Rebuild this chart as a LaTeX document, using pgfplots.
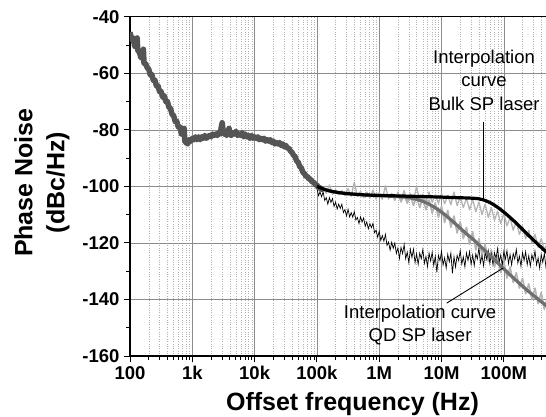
\documentclass[border=0pt]{standalone}
\usepackage{fontspec}
\setmainfont{Liberation Sans}
\usepackage{pgfplots}
\pgfplotsset{compat=1.18}
\definecolor{dg}{HTML}{555555}
\definecolor{qd}{HTML}{6E6E6E}
\definecolor{lg}{HTML}{B4B4B4}
\begin{document}
\begin{tikzpicture}
\begin{axis}[
  at={(0,0)}, anchor=south west,
  scale only axis, width=418.7pt, height=339.3pt,
  xmin=2, xmax=8.72, ymin=-160, ymax=-40,
  xtick={2,3,4,5,6,7,8}, xticklabels={100,1k,10k,100k,1M,10M,100M},
  minor xtick={2.30103,2.47712,2.60206,2.69897,2.77815,2.84510,2.90309,2.95424,
    3.30103,3.47712,3.60206,3.69897,3.77815,3.84510,3.90309,3.95424,
    4.30103,4.47712,4.60206,4.69897,4.77815,4.84510,4.90309,4.95424,
    5.30103,5.47712,5.60206,5.69897,5.77815,5.84510,5.90309,5.95424,
    6.30103,6.47712,6.60206,6.69897,6.77815,6.84510,6.90309,6.95424,
    7.30103,7.47712,7.60206,7.69897,7.77815,7.84510,7.90309,7.95424,
    8.30103,8.47712,8.60206,8.69897},
  ytick={-160,-140,-120,-100,-80,-60,-40},
  minor ytick={-150,-130,-110,-90,-70,-50},
  tick align=outside, xtick pos=lower, ytick pos=left,
  major tick length=6pt, minor tick length=3.5pt,
  xmajorgrids, xminorgrids, ymajorgrids,
  major grid style={black!45, line width=0.6pt},
  minor grid style={black!30, dotted, line width=0.5pt},
  axis line style={line width=1.1pt},
  tick style={black, line width=0.9pt},
  ticklabel style={font=\bfseries\fontsize{18.5}{20}\selectfont},
  /pgf/number format/assume math mode=true,
  xticklabel style={yshift=-1pt},
  yticklabel style={xshift=-1pt},
  xlabel={Offset frequency (Hz)},
  xlabel style={at={(axis description cs:0.5314,0)}, anchor=base, yshift=-54pt, font=\bfseries\fontsize{25}{30}\selectfont},
  ylabel={Phase Noise\\(dBc/Hz)},
  ylabel style={at={(axis description cs:0,0.511)}, anchor=center, rotate=0, yshift=88pt, align=center, font=\bfseries\fontsize{25}{32}\selectfont},
]
% light gray measured trace (bulk)
\addplot[lg, line width=1.3pt, line join=round] coordinates {
(5.00,-99.0)(5.05,-102.0)(5.10,-100.5)(5.15,-102.5)(5.20,-99.5)(5.25,-102.8)(5.30,-101.2)(5.35,-103.0)
(5.40,-101.5)(5.45,-103.3)(5.50,-100.8)(5.55,-103.5)(5.60,-98.5)(5.65,-103.6)(5.70,-101.8)(5.75,-104.0)
(5.80,-102.0)(5.85,-104.2)(5.90,-101.3)(5.95,-104.5)(6.00,-102.2)(6.05,-104.6)(6.10,-99.8)(6.15,-104.5)
(6.20,-102.5)(6.25,-105.0)(6.30,-102.0)(6.35,-104.8)(6.40,-101.5)(6.45,-105.2)(6.50,-102.6)(6.55,-105.0)
(6.60,-100.0)(6.65,-105.3)(6.70,-102.8)(6.75,-105.5)(6.80,-102.0)(6.85,-105.6)(6.90,-103.0)(6.95,-106.0)
(7.00,-102.5)(7.05,-106.2)(7.10,-103.2)(7.15,-106.5)(7.20,-102.0)(7.25,-106.8)(7.30,-103.8)(7.35,-107.5)
(7.40,-104.2)(7.45,-108.3)(7.50,-104.6)(7.55,-109.0)(7.60,-105.5)(7.65,-110.0)(7.70,-106.2)(7.75,-111.0)
(7.80,-107.5)(7.85,-112.0)(7.90,-108.8)(7.95,-113.2)(8.00,-109.5)(8.05,-114.0)(8.10,-111.0)(8.15,-115.5)
(8.20,-112.5)(8.25,-117.0)(8.30,-114.0)(8.35,-118.5)(8.40,-115.5)(8.45,-120.0)(8.50,-117.0)(8.55,-121.5)
(8.60,-118.5)(8.65,-122.5)(8.70,-120.0)};
% light gray measured trace (QD)
\addplot[lg, line width=1.6pt, line join=round] coordinates {
(6.30,-102.5)(6.35,-105.5)(6.40,-103.0)(6.45,-106.0)(6.50,-103.2)(6.55,-106.8)(6.60,-103.5)(6.65,-107.5)
(6.70,-104.0)(6.75,-108.3)(6.80,-104.8)(6.85,-109.5)(6.90,-105.8)(6.95,-111.0)(7.00,-107.0)(7.05,-112.8)
(7.10,-108.5)(7.15,-114.5)(7.20,-110.5)(7.25,-116.5)(7.30,-112.5)(7.35,-118.5)(7.40,-114.5)(7.45,-120.5)
(7.50,-116.0)(7.55,-122.5)(7.60,-118.5)(7.65,-124.5)(7.70,-120.5)(7.75,-126.5)(7.80,-122.5)(7.85,-128.5)
(7.90,-124.5)(7.95,-130.5)(8.00,-126.5)(8.05,-132.5)(8.10,-128.5)(8.15,-134.0)(8.20,-130.5)(8.25,-136.0)
(8.30,-132.5)(8.35,-138.0)(8.40,-134.5)(8.45,-140.0)(8.50,-136.0)(8.55,-141.5)(8.60,-137.5)(8.65,-143.5)
(8.70,-139.0)};
% black measured trace
\addplot[black, line width=0.7pt] coordinates {
(5.000,-100.4)(5.025,-103.3)(5.050,-102.0)(5.075,-103.7)(5.100,-101.9)(5.125,-105.0)(5.150,-104.0)(5.175,-106.3)
(5.200,-104.0)(5.225,-105.7)(5.250,-104.3)(5.275,-107.1)(5.300,-105.6)(5.325,-108.0)(5.350,-106.3)(5.375,-107.8)
(5.400,-106.3)(5.425,-109.3)(5.450,-108.2)(5.475,-110.5)(5.500,-108.1)(5.525,-110.8)(5.550,-109.3)(5.575,-110.9)
(5.600,-108.9)(5.625,-111.9)(5.650,-111.0)(5.675,-113.2)(5.700,-110.8)(5.725,-112.6)(5.750,-111.2)(5.775,-114.1)
(5.800,-112.6)(5.825,-115.0)(5.850,-113.2)(5.875,-114.6)(5.900,-113.1)(5.925,-116.4)(5.950,-115.5)(5.975,-118.0)
(6.000,-115.9)(6.025,-119.1)(6.050,-117.4)(6.075,-119.4)(6.100,-117.0)(6.125,-120.9)(6.150,-119.7)(6.175,-122.6)
(6.200,-119.8)(6.225,-121.9)(6.250,-120.1)(6.275,-123.7)(6.300,-121.8)(6.325,-125.5)(6.350,-121.6)(6.375,-123.8)
(6.400,-120.6)(6.425,-125.6)(6.450,-123.3)(6.475,-127.0)(6.500,-122.3)(6.525,-125.2)(6.550,-122.2)(6.575,-127.0)
(6.600,-123.8)(6.625,-127.6)(6.650,-123.6)(6.675,-125.6)(6.700,-122.3)(6.725,-127.2)(6.750,-124.8)(6.775,-128.4)
(6.800,-123.6)(6.825,-126.4)(6.850,-123.3)(6.875,-128.0)(6.900,-124.7)(6.925,-130.4)(6.950,-124.4)(6.975,-126.3)
(7.000,-123.0)(7.025,-127.8)(7.050,-125.3)(7.075,-128.9)(7.100,-124.0)(7.125,-126.7)(7.150,-123.6)(7.175,-130.8)
(7.200,-124.9)(7.225,-128.55)(7.250,-124.4)(7.275,-126.25)(7.300,-122.75)(7.325,-127.5)(7.350,-124.95)(7.375,-128.5)
(7.400,-123.55)(7.425,-126.2)(7.450,-123.1)(7.475,-127.65)(7.500,-124.3)(7.525,-128.0)(7.550,-123.85)(7.575,-125.7)
(7.600,-121.8)(7.625,-127.05)(7.650,-124.5)(7.675,-128.1)(7.700,-123.15)(7.725,-125.8)(7.750,-122.7)(7.775,-127.25)
(7.800,-123.9)(7.825,-127.6)(7.850,-123.5)(7.875,-125.4)(7.900,-122.0)(7.925,-126.8)(7.950,-124.3)(7.975,-127.9)
(8.000,-123.0)(8.025,-125.75)(8.050,-122.7)(8.075,-127.35)(8.100,-124.1)(8.125,-127.8)(8.150,-123.75)(8.175,-125.7)
(8.200,-122.3)(8.225,-127.15)(8.250,-124.7)(8.275,-128.3)(8.300,-123.45)(8.325,-126.2)(8.350,-123.1)(8.375,-127.75)
(8.400,-124.5)(8.425,-128.25)(8.450,-124.25)(8.475,-126.2)(8.500,-122.9)(8.525,-127.75)(8.550,-125.3)(8.575,-128.95)
(8.600,-124.1)(8.625,-126.85)(8.650,-123.8)(8.675,-128.4)(8.700,-125.1)};
% dark gray thick measured trace (low offsets)
\addplot[dg, line width=5.5pt, line join=round] coordinates {
(2.000,-45.5)(2.025,-48.0)(2.050,-47.5)(2.075,-50.5)(2.100,-50.0)(2.115,-47.5)(2.125,-52.0)(2.150,-52.5)
(2.175,-54.5)(2.200,-54.0)(2.215,-51.5)(2.225,-56.5)(2.250,-56.5)(2.275,-58.0)(2.300,-58.5)(2.325,-60.5)
(2.350,-60.5)(2.375,-62.5)(2.400,-62.5)(2.425,-64.5)(2.450,-64.5)(2.475,-66.5)(2.500,-66.5)(2.525,-68.5)
(2.550,-68.0)(2.575,-70.0)(2.600,-70.0)(2.625,-72.0)(2.650,-72.5)(2.675,-74.5)(2.700,-75.0)(2.725,-77.0)
(2.750,-77.0)(2.775,-79.0)(2.800,-79.0)(2.825,-81.5)(2.850,-81.5)(2.870,-79.5)(2.880,-84.0)(2.900,-84.5)
(2.925,-85.0)(2.950,-83.5)(2.975,-84.0)(3.000,-83.0)(3.025,-83.5)(3.050,-82.5)(3.075,-83.5)(3.100,-82.5)
(3.125,-83.5)(3.150,-82.5)(3.175,-83.0)(3.200,-82.0)(3.225,-83.0)(3.250,-82.5)(3.275,-82.0)(3.300,-82.5)
(3.325,-81.5)(3.350,-82.0)(3.375,-81.5)(3.400,-82.0)(3.425,-81.0)(3.450,-81.5)(3.465,-79.0)(3.480,-77.5)
(3.495,-80.5)(3.510,-81.5)(3.525,-81.0)(3.550,-82.0)(3.575,-80.5)(3.590,-79.5)(3.600,-81.5)(3.625,-82.0)
(3.650,-81.0)(3.675,-81.5)(3.700,-80.5)(3.725,-82.0)(3.750,-81.5)(3.775,-82.0)(3.800,-81.0)(3.825,-82.5)
(3.850,-81.5)(3.875,-82.5)(3.900,-82.0)(3.925,-83.0)(3.950,-82.0)(3.975,-83.0)(4.000,-82.5)(4.025,-83.0)
(4.050,-82.5)(4.075,-83.5)(4.100,-83.0)(4.125,-83.5)(4.150,-83.0)(4.175,-84.0)(4.200,-83.5)(4.225,-84.0)
(4.250,-83.5)(4.275,-84.5)(4.300,-84.0)(4.325,-85.0)(4.350,-84.5)(4.375,-85.0)(4.400,-84.5)(4.425,-85.5)
(4.450,-85.0)(4.475,-86.0)(4.500,-85.5)(4.525,-86.5)(4.550,-86.5)(4.575,-87.5)(4.600,-88.0)(4.625,-89.0)
(4.650,-89.5)(4.675,-91.0)(4.700,-91.5)(4.725,-93.0)(4.750,-93.5)(4.775,-95.0)(4.800,-95.5)(4.825,-96.5)
(4.850,-96.5)(4.875,-97.5)(4.900,-97.5)(4.925,-98.5)(4.950,-98.5)(4.975,-99.5)(5.000,-99.5)(5.025,-100.5)
(5.050,-100.5)(5.075,-101.0)(5.100,-101.0)};
% interpolation curve QD SP laser
\addplot[qd, line width=3.2pt, smooth] coordinates {
(5.0,-100.0)(5.1,-100.9)(5.2,-101.6)(5.35,-102.2)(5.5,-102.6)(5.75,-103.0)(6.0,-103.3)(6.2,-103.5)
(6.4,-103.8)(6.5,-104.1)(6.6,-104.6)(6.7,-105.3)(6.8,-106.3)(6.9,-107.6)(7.0,-109.1)(7.1,-110.9)
(7.2,-112.8)(7.3,-114.8)(7.4,-116.8)(7.5,-118.6)(7.6,-120.7)(7.7,-122.8)(7.8,-124.9)(7.9,-127.0)
(8.0,-129.2)(8.1,-131.3)(8.2,-133.3)(8.3,-135.3)(8.4,-137.2)(8.5,-139.0)(8.6,-140.8)(8.7,-142.5)};
% interpolation curve Bulk SP laser
\addplot[black, line width=3.2pt, smooth] coordinates {
(5.0,-100.0)(5.1,-100.9)(5.2,-101.6)(5.35,-102.2)(5.5,-102.6)(5.75,-103.0)(6.0,-103.2)(6.5,-103.5)
(7.0,-103.8)(7.25,-104.0)(7.4,-104.1)(7.5,-104.2)(7.6,-104.4)(7.7,-105.0)(7.8,-106.0)(7.9,-107.4)
(8.0,-109.1)(8.1,-111.0)(8.2,-113.0)(8.3,-115.2)(8.4,-117.4)(8.5,-119.5)(8.6,-121.6)(8.7,-123.6)};
% annotations
\node[align=center, font=\fontsize{18.5}{23.5}\selectfont] at (axis cs:7.682,-62.4) {Interpolation\\curve\\Bulk SP laser};
\draw[line width=0.9pt] (axis cs:7.666,-77.2) -- (axis cs:7.666,-104.3);
\node[align=center, font=\fontsize{18.5}{23.5}\selectfont] at (axis cs:6.655,-149.0) {Interpolation curve\\QD SP laser};
\draw[line width=0.9pt] (axis cs:7.083,-141.3) -- (axis cs:7.987,-128.9);
\end{axis}
\pgfresetboundingbox
\path[use as bounding box] (-130pt,-60pt) rectangle (416pt,356pt);
\end{tikzpicture}
\end{document}
